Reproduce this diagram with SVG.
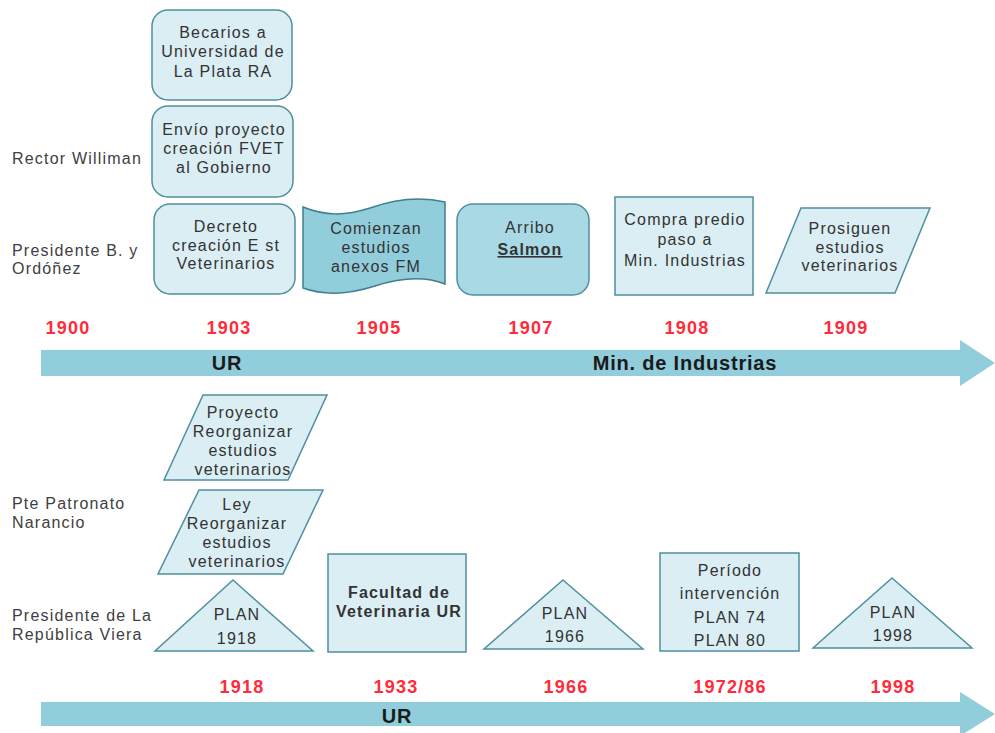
<svg xmlns="http://www.w3.org/2000/svg" width="995" height="733" viewBox="0 0 995 733">
<style>
text{font-family:"Liberation Sans",Arial,sans-serif;}
.n{fill:#daeef3;stroke:#4f8f9f;stroke-width:1.5;}
.d{fill:#a9d9e5;stroke:#4f8f9f;stroke-width:1.5;}
.w{fill:#92cddc;stroke:#3f7f8f;stroke-width:1.5;}
.t{font-size:16px;letter-spacing:1.2px;fill:#333;text-anchor:middle;}
.l{font-size:16px;letter-spacing:1.2px;fill:#404040;}
.y{font-size:18px;letter-spacing:1.2px;font-weight:bold;fill:#ff2b3b;text-anchor:middle;}
.a{fill:#92cddc;}
.b{font-size:20px;letter-spacing:0.8px;font-weight:bold;fill:#1a1a1a;text-anchor:middle;}
</style>
<rect width="995" height="733" fill="#fff"/>
<g id="connectors">
<path class="a" d="M41,350 H960 V340 L995,363 L960,386 V376 H41 Z"/>
<path class="a" d="M41,702 H960 V692 L995,714 L960,736 V726 H41 Z"/>
</g>
<g id="labels">
<text class="l" x="12" y="164">Rector Williman</text>
<text class="l" x="12" y="256">Presidente B. y</text>
<text class="l" x="12" y="274">Ordóñez</text>
<text class="l" x="12" y="509">Pte Patronato</text>
<text class="l" x="12" y="528">Narancio</text>
<text class="l" x="12" y="621">Presidente de La</text>
<text class="l" x="12" y="640">República Viera</text>
<text class="y" x="68" y="334">1900</text>
<text class="y" x="229" y="334">1903</text>
<text class="y" x="379" y="334">1905</text>
<text class="y" x="531" y="334">1907</text>
<text class="y" x="687" y="334">1908</text>
<text class="y" x="846" y="334">1909</text>
<text class="b" x="227" y="370">UR</text>
<text class="b" x="685" y="370">Min. de Industrias</text>
<text class="y" x="242" y="693">1918</text>
<text class="y" x="396" y="693">1933</text>
<text class="y" x="566" y="693">1966</text>
<text class="y" x="730" y="693">1972/86</text>
<text class="y" x="893" y="693">1998</text>
<text class="b" x="397" y="723">UR</text>
</g>
<g id="becarios">
<rect class="n" x="152" y="10" width="140" height="90" rx="16"/>
<text class="t" x="223" y="38">Becarios a</text>
<text class="t" x="223" y="57">Universidad de</text>
<text class="t" x="223" y="77">La Plata RA</text>
</g>
<g id="envio">
<rect class="n" x="152" y="106" width="141" height="91" rx="16"/>
<text class="t" x="224" y="135">Envío proyecto</text>
<text class="t" x="224" y="154">creación FVET</text>
<text class="t" x="224" y="173">al Gobierno</text>
</g>
<g id="decreto">
<rect class="n" x="154" y="204" width="141" height="90" rx="16"/>
<text class="t" x="226" y="232">Decreto</text>
<text class="t" x="226" y="251">creación E st</text>
<text class="t" x="226" y="269">Veterinarios</text>
</g>
<g id="comienzan">
<path class="w" d="M303,207 C325,216 345,216 370,208 C395,199 420,196 445,202 V284 C425,276 400,278 375,286 C350,294 325,296 303,288 Z"/>
<text class="t" x="376" y="234">Comienzan</text>
<text class="t" x="376" y="253">estudios</text>
<text class="t" x="376" y="272">anexos FM</text>
</g>
<g id="arribo">
<rect class="d" x="457" y="204" width="132" height="91" rx="16"/>
<text class="t" x="530" y="233">Arribo</text>
<text class="t" x="530" y="255" font-weight="bold" text-decoration="underline">Salmon</text>
</g>
<g id="compra">
<rect class="n" x="615" y="197" width="138" height="98"/>
<text class="t" x="685" y="225">Compra predio</text>
<text class="t" x="685" y="245">paso a</text>
<text class="t" x="685" y="266">Min. Industrias</text>
</g>
<g id="prosiguen">
<polygon class="n" points="801,208 930,208 895,293 766,293"/>
<text class="t" x="850" y="234">Prosiguen</text>
<text class="t" x="850" y="253">estudios</text>
<text class="t" x="850" y="271">veterinarios</text>
</g>
<g id="proyecto">
<polygon class="n" points="203,395 327,395 288,480 164,480"/>
<text class="t" x="243" y="418">Proyecto</text>
<text class="t" x="243" y="437">Reorganizar</text>
<text class="t" x="243" y="456">estudios</text>
<text class="t" x="243" y="475">veterinarios</text>
</g>
<g id="ley">
<polygon class="n" points="199,490 323,490 283,574 158,574"/>
<text class="t" x="237" y="510">Ley</text>
<text class="t" x="237" y="529">Reorganizar</text>
<text class="t" x="237" y="548">estudios</text>
<text class="t" x="237" y="567">veterinarios</text>
</g>
<g id="plan1918">
<polygon class="n" points="233,580 313,651 155,651"/>
<text class="t" x="237" y="620">PLAN</text>
<text class="t" x="237" y="644">1918</text>
</g>
<g id="facultad">
<rect class="n" x="328" y="554" width="138" height="98"/>
<text class="t" x="399" y="598" font-weight="bold">Facultad de</text>
<text class="t" x="399" y="617" font-weight="bold">Veterinaria UR</text>
</g>
<g id="plan1966">
<polygon class="n" points="563,580 643,649 484,649"/>
<text class="t" x="565" y="619">PLAN</text>
<text class="t" x="565" y="642">1966</text>
</g>
<g id="periodo">
<rect class="n" x="660" y="553" width="139" height="98"/>
<text class="t" x="730" y="576">Período</text>
<text class="t" x="730" y="599">intervención</text>
<text class="t" x="730" y="623">PLAN 74</text>
<text class="t" x="730" y="646">PLAN 80</text>
</g>
<g id="plan1998">
<polygon class="n" points="892,578 972,648 813,648"/>
<text class="t" x="893" y="618">PLAN</text>
<text class="t" x="893" y="641">1998</text>
</g>
</svg>
